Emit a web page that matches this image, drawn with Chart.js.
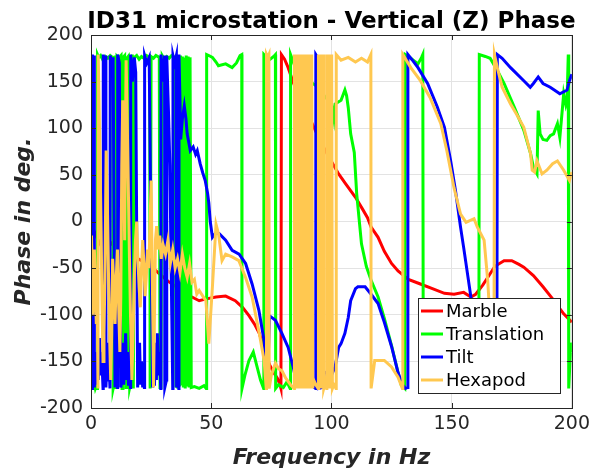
<!DOCTYPE html>
<html>
<head>
<meta charset="utf-8">
<script src="https://cdn.jsdelivr.net/npm/chart.js@4.4.1/dist/chart.umd.min.js"></script>
<style>
  body { margin: 0; background: #fff; }
</style>
</head>
<body>
<canvas id="phaseChart" width="595" height="470"></canvas>
<script>
// Series names / colours / tick values
const seriesNames = ['Marble', 'Translation', 'Tilt', 'Hexapod'];
const seriesColors = ['#ff0000', '#00ff00', '#0000ff', '#ffc850'];
const xTickValues = [0, 50, 100, 150, 200];
const yTickValues = [-200, -150, -100, -50, 0, 50, 100, 150, 200];

// [frequency Hz, phase deg]
const marble = [[0.5,-5],[2,-15],[4,-25],[6,-20],[8,-22],[10,-28],[12,-30],[15,-32],[18,-38],[21,-42],[25,-48],[28,-55],[32,-64],[35.4,-70],[38,-75],[42,-81],[45,-85],[48,-83],[52,-81],[56,-80],[60,-85],[63,-92],[65.7,-101],[68,-110],[70,-120],[72.6,-142],[74.5,-155],[76,-162],[77.5,-168],[78.6,-175],[79.0,-179],[79.2,179],[80.5,174],[82,165],[84,150],[86,137],[89,121],[92,105],[95,88],[99,69],[103,51],[106,40],[110,26],[113,13],[115,4],[116.5,-6],[119.4,-17],[122,-32],[125,-45],[127.7,-53],[132,-62],[137,-67],[142,-72],[147,-77],[151,-78],[155,-76],[158,-81],[160,-78],[163,-68],[165,-60],[168,-48],[171.8,-42],[175,-42],[178,-46],[180,-49],[184,-58],[188,-70],[192,-83],[196.6,-99],[200,-108]];

const translation = [[0.1,-90],[0.4,-130],[0.7,-160],[0.9,-178],[1.3,-172],[1.8,-179],[2.2,-176],[2.6,-179],[2.7,179],[3.2,176],[4,178],[5,173],[6,177],[7,175],[8,178],[9.0,176],[9.2,-179],[9.6,-174],[10.0,178],[10.4,-178],[10.8,177],[11.5,175],[12.5,178],[12.9,-179],[13.3,176],[14,178],[14.6,-178],[14.9,175],[15.5,177],[16.1,-178],[16.6,-172],[17.2,179],[17.6,-179],[18.0,176],[19,178],[20,174],[21,177],[22,175],[23,178],[24.4,176],[24.6,-179],[25.0,177],[26,175],[27,178],[28.4,176],[28.7,-178],[29.1,-176],[29.6,178],[30.5,174],[31.5,177],[32.5,175],[33.5,178],[35,176],[35.3,-178],[35.6,177],[36.0,-179],[36.4,176],[36.8,-177],[37.2,178],[37.6,-176],[38.0,177],[38.4,-178],[38.8,176],[39.2,-179],[39.6,178],[40.0,-177],[40.4,177],[40.8,-178],[41.2,176],[41.7,-178],[43,-177],[45,-179],[47,-176],[47.9,-179],[48.1,179],[49,178],[50.5,176],[52,171],[53,167],[56,169],[58.7,165],[60.5,170],[62,178],[62.7,179],[62.8,-179],[64,-165],[65.7,-149],[67.5,-140],[69,-155],[70.5,-170],[71.8,-179],[71.9,179],[73,176],[74.5,174],[76,177],[76.7,179],[76.8,-179],[78,-175],[80,-178],[81.5,-172],[82.8,-179],[83.0,179],[85,165],[88,156],[90.5,151],[94.6,144],[97,135],[100,126],[101,110],[101.5,126],[104,130],[105.6,141],[106.3,135],[107,122],[108,94],[109.5,74],[110.5,30],[112.5,-24],[114.5,-48],[116.5,-63],[119.4,-81],[122,-104],[125,-133],[127.7,-162],[129,-175],[130.5,-179],[130.7,179],[133,175],[136,169],[137.5,176],[138,179],[138.2,-179],[142,-170],[150,-165],[158,-172],[161.3,-179],[161.5,179],[164,177],[166,175],[169,162],[171.8,148],[176,123],[180,98],[182.8,73],[184,58],[185.5,51],[186,119],[186.8,94],[188,88],[189.6,87],[191,92],[192.4,94],[194,105],[195,90],[196.6,137],[197.5,125],[198,130],[198.5,179],[198.7,-179],[199.2,-150],[199.6,-130],[200,-140]];

const tilt = [[0.1,-120],[0.3,-170],[0.5,-179],[0.6,179],[1.0,150],[1.3,178],[1.4,-178],[1.8,-150],[2.2,-175],[2.6,-140],[3.0,-170],[3.5,-125],[4.0,-165],[4.4,-140],[5.0,-179],[5.1,179],[5.6,165],[6.1,178],[6.2,-178],[6.5,-160],[6.8,-130],[7.1,-170],[7.4,-145],[7.9,-179],[8.0,178],[8.6,168],[9.2,176],[10.0,-178],[10.5,-150],[11.0,-178],[11.1,179],[11.8,170],[12.4,-178],[12.8,-170],[13.2,-130],[13.6,-175],[14.0,-150],[14.4,-120],[14.8,-170],[15.2,-140],[15.6,-176],[16.0,-150],[16.4,-178],[16.5,179],[17.2,150],[18.0,176],[18.6,160],[19.4,-178],[19.8,-160],[20.2,-130],[20.6,-175],[21.0,-150],[21.5,-178],[21.9,-160],[22.2,-178],[22.3,178],[23.2,170],[24.2,176],[25.6,-178],[26.0,-150],[26.4,-176],[26.8,-130],[27.2,-170],[27.6,-120],[28.0,-165],[28.5,-140],[29.0,-179],[29.1,179],[29.8,150],[30.6,178],[30.7,-178],[31.4,-170],[31.5,178],[32.2,120],[32.8,60],[33.2,-20],[33.6,-100],[34.0,-179],[34.1,178],[34.8,170],[35.5,178],[35.6,-178],[36.1,-170],[36.5,-179],[36.6,179],[37.0,130],[37.3,88],[38.0,110],[38.8,124],[39.5,110],[40.0,94],[41.3,76],[42.5,80],[43.5,72],[44.2,76],[45.4,62],[46.5,52],[47.5,44],[48.5,30],[49.0,20],[49.6,0],[50.5,-17],[52,-12],[53.3,-13],[56,-20],[58.7,-31],[61.6,-35],[64.3,-45],[67,-67],[69.8,-95],[72,-128],[72.6,-149],[73.3,-170],[73.8,-140],[74.2,-104],[74.7,-102],[76.7,-106],[79.4,-120],[82,-135],[84,-155],[85,-167],[86,-170],[89,-174],[92,-176],[93.4,-179],[93.5,179],[94.2,176],[94.6,-179],[96,-178],[97,-163],[99,-160],[100,-165],[101.5,-156],[103,-135],[104,-131],[105.6,-120],[107,-103],[108,-85],[110,-72],[111,-70],[114,-70],[116.5,-78],[119.4,-88],[122,-108],[125,-134],[127.7,-162],[129.5,-175],[130.8,-179],[131.7,-178],[131.8,179],[134,172],[136,165],[140,148],[144,123],[147,101],[149.6,65],[151.6,33],[153.7,-6],[155,-28],[158,-81],[161,-120],[164,-150],[167,-172],[168.8,-179],[169,179],[171,175],[174.5,165],[180,151],[182.7,144],[184,148],[186,155],[188,148],[191,144],[195,137],[198,141],[199,151],[200,158]];

const hexapod = [[0.2,-15],[0.5,-55],[0.8,-100],[1.1,-70],[1.4,-30],[1.8,-60],[2.2,-110],[2.6,-80],[2.9,-179],[3.0,179],[3.4,120],[3.8,60],[4.2,-10],[4.6,-90],[5.0,-150],[5.4,-120],[5.8,-60],[6.3,76],[6.8,20],[7.3,-60],[7.8,-130],[8.2,-170],[8.6,-120],[9.0,-40],[9.5,-70],[10.0,-110],[10.5,-60],[11.0,-30],[11.5,-90],[12.0,-140],[12.4,-80],[12.8,60],[13.2,130],[13.6,60],[14.0,-20],[14.3,80],[14.6,173],[15.0,120],[15.5,40],[16.0,-40],[16.5,-110],[17.0,-170],[17.5,-120],[18.0,-60],[18.5,-20],[19.0,0],[19.5,-40],[20.0,-70],[20.5,-92],[21.0,-50],[21.5,-20],[22.0,-45],[22.5,-80],[23.0,-60],[23.5,-30],[24.0,-50],[24.5,-10],[25.0,44],[25.4,-40],[25.8,-120],[26.0,-178],[26.4,-100],[26.8,-20],[27.3,-5],[28,-30],[28.6,-15],[29.2,-40],[30,-25],[31,-35],[32,-20],[33,-45],[34,-30],[35,-50],[36,-40],[37,-55],[38,-35],[39,-50],[40,-60],[41,-45],[42,-65],[43,-62],[44,-78],[45,-74],[46.5,-80],[47.8,-85],[49,-131],[50.5,-70],[52,-3],[53,-13],[54.5,-42],[56,-35],[58.7,-38],[61.5,-42],[64.3,-60],[67,-81],[70,-120],[72,-149],[72.9,-179],[73.0,179],[73.5,176],[74.0,179],[74.1,-179],[75,-165],[76.7,-152],[78,-158],[79.4,-160],[81,-168],[83,-175],[84.5,-179],[84.6,179],[85.0,-179],[85.4,179],[85.8,-179],[86.2,179],[86.6,-179],[87.0,179],[87.4,-179],[87.8,179],[88.2,-179],[88.6,179],[89.0,-179],[89.4,179],[89.8,-179],[90.2,179],[90.6,-179],[91.0,179],[91.4,-179],[91.8,179],[92.2,-179],[92.6,-170],[93.5,-175],[94.5,-179],[94.6,179],[95.1,-179],[95.6,179],[96.1,-179],[96.6,179],[96.8,-179],[97.5,-172],[98.0,-179],[98.1,179],[98.6,-179],[99.1,179],[99.6,-179],[100.1,179],[100.4,-179],[101,-175],[101.9,-179],[102.0,179],[104,173],[107,176],[110,171],[112.5,175],[115,171],[116.4,179],[116.5,-179],[118,-149],[122,-149],[125,-156],[127.7,-167],[129.5,-179],[129.7,179],[133,165],[137,151],[141,133],[145.5,105],[148,76],[151,36],[153.7,8],[156,-1],[159.3,3],[160.7,-6],[163.5,-20],[165,-63],[166.5,-130],[167.6,-179],[167.8,179],[169,165],[171,144],[174.5,126],[177,115],[180,101],[182.8,73],[183.5,55],[184.5,53],[185.5,65],[187.6,51],[189.6,55],[192,62],[194,65],[196.6,55],[199,44],[200,53]];

const allSeries = [marble, translation, tilt, hexapod];

const FONT = '"DejaVu Sans", "Liberation Sans", sans-serif';
const AXIS_COLOR = '#262626';

function toXY(pairs) {
    return pairs.map(p => ({ x: p[0], y: p[1] }));
}

// frame, inward ticks, title, axis titles and boxed legend (matlab look)
const decorPlugin = {
    id: 'decor',
    beforeDraw(chart) {
        const ctx = chart.ctx;
        ctx.save();
        ctx.fillStyle = '#fff';
        ctx.fillRect(0, 0, chart.width, chart.height);
        ctx.restore();
    },
    afterDatasetsDraw(chart) {
        const ctx = chart.ctx;
        const a = chart.chartArea;
        const xs = chart.scales.x, ys = chart.scales.y;
        ctx.save();

        // box + tick marks
        ctx.strokeStyle = AXIS_COLOR;
        ctx.lineWidth = 1;
        ctx.beginPath();
        xTickValues.forEach(v => {
            const px = Math.round(xs.getPixelForValue(v)) + 0.5;
            ctx.moveTo(px, a.bottom); ctx.lineTo(px, a.bottom - 5);
            ctx.moveTo(px, a.top); ctx.lineTo(px, a.top + 5);
        });
        yTickValues.forEach(v => {
            const py = Math.round(ys.getPixelForValue(v)) + 0.5;
            ctx.moveTo(a.left, py); ctx.lineTo(a.left + 5, py);
            ctx.moveTo(a.right, py); ctx.lineTo(a.right - 5, py);
        });
        ctx.stroke();
        ctx.strokeRect(Math.round(a.left) + 0.5, Math.round(a.top) + 0.5,
                       Math.round(a.right - a.left), Math.round(a.bottom - a.top));

        // legend
        const lx = 418, ly = 298, lw = 142, lh = 95;
        ctx.fillStyle = '#fff';
        ctx.fillRect(lx, ly, lw, lh);
        ctx.strokeRect(lx + 0.5, ly + 0.5, lw, lh);
        ctx.font = '18px ' + FONT;
        ctx.textBaseline = 'middle';
        ctx.textAlign = 'left';
        chart.data.datasets.forEach((ds, i) => {
            const yy = ly + 13 + i * 23;
            ctx.strokeStyle = ds.borderColor;
            ctx.lineWidth = 3;
            ctx.beginPath();
            ctx.moveTo(lx + 3, yy); ctx.lineTo(lx + 25, yy);
            ctx.stroke();
            ctx.fillStyle = '#000';
            ctx.fillText(ds.label, lx + 28, yy + 1);
        });

        // titles
        const cx = (a.left + a.right) / 2;
        ctx.fillStyle = '#000';
        ctx.textAlign = 'center';
        ctx.textBaseline = 'alphabetic';
        ctx.font = 'bold 23px ' + FONT;
        ctx.fillText('ID31 microstation - Vertical (Z) Phase', cx, 28);

        ctx.fillStyle = AXIS_COLOR;
        ctx.font = 'italic bold 22px ' + FONT;
        ctx.fillText('Frequency in Hz', cx, 464);

        ctx.translate(30, (a.top + a.bottom) / 2);
        ctx.rotate(-Math.PI / 2);
        ctx.fillText('Phase in deg.', 0, 0);
        ctx.restore();
    }
};

const ctx = document.getElementById('phaseChart').getContext('2d');
new Chart(ctx, {
    type: 'line',
    data: {
        datasets: allSeries.map((s, i) => ({
            label: seriesNames[i],
            data: toXY(s),
            borderColor: seriesColors[i],
            borderWidth: 3,
            pointRadius: 0,
            tension: 0,
            fill: false,
            // later series drawn on top, as in the original plot order
            order: allSeries.length - 1 - i
        }))
    },
    options: {
        responsive: false,
        animation: false,
        devicePixelRatio: 1,
        layout: { autoPadding: false, padding: { left: 0, right: 20, top: 35, bottom: 0 } },
        plugins: {
            legend: { display: false },
            title: { display: false },
            tooltip: { enabled: false }
        },
        scales: {
            x: {
                type: 'linear',
                min: 0,
                max: 200,
                afterBuildTicks: s => { s.ticks = xTickValues.map(v => ({ value: v })); },
                afterFit: s => { s.height = 62; },
                ticks: { color: AXIS_COLOR, font: { family: FONT, size: 19 }, padding: 5, maxRotation: 0 },
                grid: { color: '#e3e3e3', drawTicks: false },
                border: { display: false }
            },
            y: {
                type: 'linear',
                min: -200,
                max: 200,
                afterBuildTicks: s => { s.ticks = yTickValues.map(v => ({ value: v })); },
                afterFit: s => { s.width = 91; },
                ticks: { color: AXIS_COLOR, font: { family: FONT, size: 19 }, padding: 8 },
                grid: { color: '#e3e3e3', drawTicks: false },
                border: { display: false }
            }
        }
    },
    plugins: [decorPlugin]
});
</script>
</body>
</html>
